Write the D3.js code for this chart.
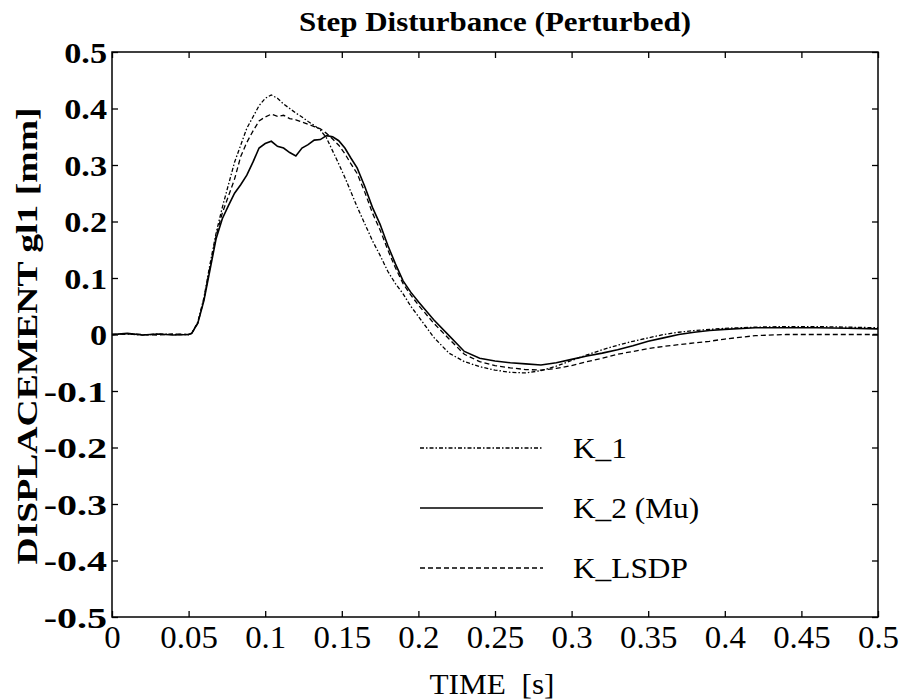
<!DOCTYPE html>
<html><head><meta charset="utf-8">
<script src="https://cdn.jsdelivr.net/npm/d3@7"></script>
<style>body{margin:0;background:#fff}svg{display:block}</style>
</head><body><svg id="c" width="908" height="700" font-family="'Liberation Serif','Times New Roman',Times,serif"></svg>
<script>
const title = "Step Disturbance (Perturbed)";
const xLabel = "TIME  [s]";
const yLabel = "DISPLACEMENT gl1 [mm]";
const xTicks = [0,0.05,0.1,0.15,0.2,0.25,0.3,0.35,0.4,0.45,0.5];
const xTickLabels = ["0","0.05","0.1","0.15","0.2","0.25","0.3","0.35","0.4","0.45","0.5"];
const yTicks = [0.5,0.4,0.3,0.2,0.1,0,-0.1,-0.2,-0.3,-0.4,-0.5];
const yTickLabels = ["0.5","0.4","0.3","0.2","0.1","0","-0.1","-0.2","-0.3","-0.4","-0.5"];
const seriesNames = ["K_1","K_2 (Mu)","K_LSDP"];

const time = [0,0.01,0.02,0.03,0.04,0.05,
 0.052,0.056,0.06,0.064,0.068,0.072,0.076,0.08,0.084,0.088,0.092,0.096,0.1,0.104,0.108,0.112,0.116,0.12,0.124,0.128,0.132,0.136,0.14,0.144,0.148,0.152,0.156,0.16,
 0.165,0.17,0.175,0.18,0.185,0.19,0.195,0.2,
 0.21,0.22,0.23,0.24,0.25,0.26,0.27,0.28,0.29,0.3,0.31,0.32,0.33,0.34,0.35,0.36,0.37,0.38,0.39,0.4,
 0.42,0.44,0.46,0.48,0.5];

const k1 = [0,0.001,-0.001,0.001,0,0,
 0.002,0.022,0.065,0.125,0.18,0.225,0.265,0.305,0.335,0.365,0.385,0.405,0.418,0.424,0.418,0.408,0.4,0.392,0.385,0.377,0.37,0.362,0.348,0.325,0.302,0.278,0.252,0.226,
 0.196,0.166,0.14,0.112,0.09,0.072,0.05,0.032,
 -0.005,-0.033,-0.048,-0.057,-0.063,-0.067,-0.068,-0.064,-0.056,-0.046,-0.036,-0.027,-0.019,-0.012,-0.006,0,0.004,0.007,0.009,0.011,
 0.013,0.014,0.014,0.013,0.012];

const k2 = [0,0.002,-0.001,0.001,-0.001,0,
 0.002,0.02,0.06,0.115,0.17,0.205,0.228,0.25,0.265,0.282,0.305,0.33,0.338,0.342,0.333,0.33,0.322,0.316,0.33,0.336,0.344,0.345,0.352,0.35,0.343,0.33,0.312,0.295,
 0.262,0.225,0.195,0.158,0.125,0.095,0.075,0.058,
 0.026,-0.002,-0.03,-0.042,-0.047,-0.05,-0.052,-0.054,-0.05,-0.044,-0.038,-0.033,-0.027,-0.02,-0.012,-0.006,0,0.004,0.007,0.009,
 0.012,0.012,0.012,0.011,0.01];

const klsdp = [0,0.001,0,-0.001,0.001,0,
 0.002,0.02,0.062,0.12,0.175,0.215,0.245,0.275,0.315,0.34,0.36,0.378,0.385,0.39,0.386,0.388,0.382,0.38,0.376,0.372,0.368,0.364,0.356,0.346,0.335,0.32,0.302,0.285,
 0.252,0.215,0.185,0.15,0.118,0.09,0.07,0.052,
 0.02,-0.008,-0.035,-0.048,-0.055,-0.059,-0.062,-0.063,-0.06,-0.055,-0.048,-0.042,-0.035,-0.03,-0.025,-0.021,-0.018,-0.015,-0.012,-0.008,
 -0.002,0,0,0,0];

const seriesValues = [k1,k2,klsdp];
const dashes = ["4,2,1.5,2", null, "5,3"];
const widths = [1.3,1.6,1.3];

const svg = d3.select("#c");
const L=112,R=878,T=52,B=617;
const x = d3.scaleLinear().domain([0,0.5]).range([L,R]);
const y = d3.scaleLinear().domain([-0.5,0.5]).range([B,T]);

// title
svg.append("text").attr("x",495).attr("y",31).attr("text-anchor","middle")
  .attr("font-size",27).attr("font-weight","bold").text(title)
  .attr("textLength",392).attr("lengthAdjust","spacingAndGlyphs");

// frame
svg.append("rect").attr("x",L).attr("y",T).attr("width",R-L).attr("height",B-T)
  .attr("fill","none").attr("stroke","#000").attr("stroke-width",1.5);

// axes
const gL = svg.append("g").attr("transform",`translate(${L},0)`)
  .call(d3.axisLeft(y).tickValues(yTicks).tickSize(-6).tickPadding(5).tickFormat((d,i)=>yTickLabels[i]));
const gR = svg.append("g").attr("transform",`translate(${R},0)`)
  .call(d3.axisRight(y).tickValues(yTicks).tickSize(-6).tickFormat(""));
const gB = svg.append("g").attr("transform",`translate(0,${B})`)
  .call(d3.axisBottom(x).tickValues(xTicks).tickSize(-6).tickPadding(9).tickFormat((d,i)=>xTickLabels[i]));
const gT = svg.append("g").attr("transform",`translate(0,${T})`)
  .call(d3.axisTop(x).tickValues(xTicks).tickSize(-6).tickFormat(""));
[gL,gR,gB,gT].forEach(g=>{ g.select(".domain").remove(); g.selectAll("line").attr("stroke","#000").attr("stroke-width",1.3); g.attr("font-family",null).attr("font-size",null); });
gL.attr("font-size",29).attr("font-weight","bold");
gL.selectAll("text").attr("dy","0.35em").each(function(d){
  const w=this.getComputedTextLength();
  d3.select(this).attr("textLength", d<0 ? w*1.38 : w*1.18).attr("lengthAdjust","spacingAndGlyphs");
});
gB.attr("font-size",31);
gB.selectAll("text").attr("dy","0.71em").each(function(){
  const w=this.getComputedTextLength();
  d3.select(this).attr("textLength", w*1.06).attr("lengthAdjust","spacingAndGlyphs");
});

// axis labels
svg.append("text").attr("transform","translate(37,336) rotate(-90)").attr("text-anchor","middle")
  .attr("font-size",29).attr("font-weight","bold").text(yLabel)
  .attr("textLength",457).attr("lengthAdjust","spacingAndGlyphs");
svg.append("text").attr("x",492).attr("y",694).attr("text-anchor","middle")
  .attr("font-size",29).attr("xml:space","preserve").text(xLabel)
  .attr("textLength",125).attr("lengthAdjust","spacingAndGlyphs");

// lines
const line = d3.line().x((d,i)=>x(time[i])).y(d=>y(d));
seriesValues.forEach((vals,k)=>{
  svg.append("path").datum(vals).attr("d",line).attr("fill","none")
    .attr("stroke","#000").attr("stroke-width",widths[k])
    .attr("stroke-dasharray",dashes[k]);
});

// legend
const legendRows = [448,508,568];
seriesNames.forEach((n,k)=>{
  svg.append("line").attr("x1",420).attr("x2",543).attr("y1",legendRows[k]).attr("y2",legendRows[k])
    .attr("stroke","#000").attr("stroke-width",widths[k]).attr("stroke-dasharray",dashes[k]);
  const t = svg.append("text").attr("x",573).attr("y",legendRows[k]+10).attr("font-size",29).text(n);
  const w = t.node().getComputedTextLength();
  t.attr("textLength", w*1.08).attr("lengthAdjust","spacingAndGlyphs");
});
</script></body></html>
